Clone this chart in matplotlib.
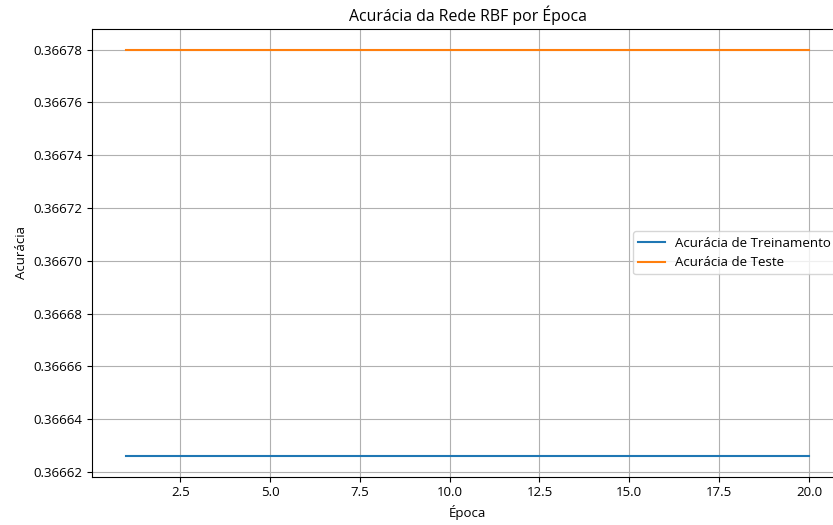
import matplotlib
matplotlib.use("Agg")
import matplotlib.pyplot as plt

plt.rcParams['font.family'] = ['Open Sans', 'DejaVu Sans']
plt.rcParams['font.size'] = 9.5

epochs = list(range(1, 21))
train_acc = [0.366626] * 20
test_acc = [0.36678] * 20

fig = plt.figure(figsize=(8.33, 5.25), dpi=100)
ax = fig.add_axes([92.3 / 833, 1 - 476.5 / 525, (843 - 92.3) / 833, (476.5 - 29.3) / 525])
ax.plot(epochs, train_acc, label='Acurácia de Treinamento')
ax.plot(epochs, test_acc, label='Acurácia de Teste')
ax.set_title('Acurácia da Rede RBF por Época', fontsize=11.4)
ax.set_xlabel('Época')
ax.set_ylabel('Acurácia')
ax.legend(loc='center right')
ax.grid(True)
fig.savefig('out.png', dpi=100)
